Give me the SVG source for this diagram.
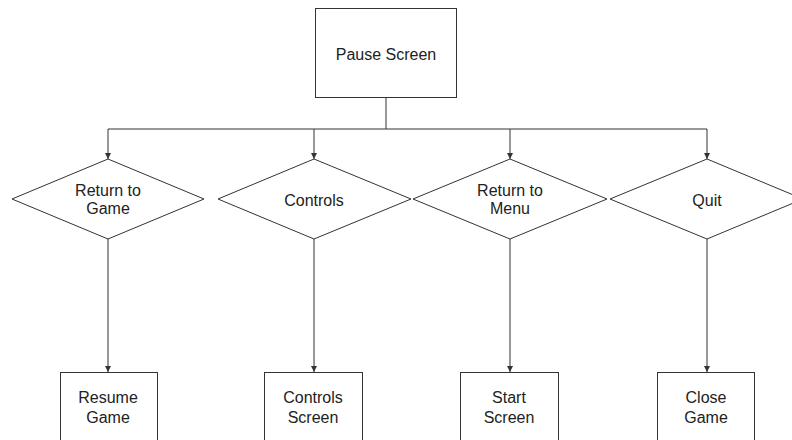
<svg xmlns="http://www.w3.org/2000/svg" width="792" height="440" viewBox="0 0 792 440">
<style>
.n{fill:#fff;stroke:#333;stroke-width:1}
.t{font-family:"Liberation Sans",Arial,sans-serif;font-size:16px;fill:#222;text-anchor:middle}
.c{fill:none;stroke:#333;stroke-width:1}
</style>
<defs>
<marker id="a" viewBox="0 0 8 8" refX="8" refY="4" markerWidth="6" markerHeight="6" markerUnits="userSpaceOnUse" orient="auto">
<path d="M0,0 L8,4 L0,8 z" fill="#333"/>
</marker>
</defs>
<rect width="792" height="440" fill="#fff"/>
<g id="connectors">
<path class="c" d="M386,97 V129"/>
<path class="c" d="M108,129 H707"/>
<path class="c" d="M108,129 V159" marker-end="url(#a)"/>
<path class="c" d="M314,129 V159" marker-end="url(#a)"/>
<path class="c" d="M510,129 V159" marker-end="url(#a)"/>
<path class="c" d="M707,129 V159" marker-end="url(#a)"/>
<path class="c" d="M108,239 V372" marker-end="url(#a)"/>
<path class="c" d="M314,239 V372" marker-end="url(#a)"/>
<path class="c" d="M510,239 V372" marker-end="url(#a)"/>
<path class="c" d="M707,239 V372" marker-end="url(#a)"/>
</g>
<g id="pause">
<rect class="n" x="315.5" y="8.5" width="141" height="89"/>
<text class="t" x="386" y="60">Pause Screen</text>
</g>
<g id="d1">
<polygon class="n" points="108,159 204,199 108,239 12,199"/>
<text class="t" x="108" y="196">Return to</text>
<text class="t" x="108" y="214">Game</text>
</g>
<g id="d2">
<polygon class="n" points="314,159 411,199 314,239 218,199"/>
<text class="t" x="314" y="206">Controls</text>
</g>
<g id="d3">
<polygon class="n" points="510,159 607,199 510,239 413,199"/>
<text class="t" x="510" y="196">Return to</text>
<text class="t" x="510" y="214">Menu</text>
</g>
<g id="d4">
<polygon class="n" points="707,159 803,199 707,239 610,199"/>
<text class="t" x="707" y="206">Quit</text>
</g>
<g id="b1">
<rect class="n" x="60.5" y="372.5" width="97" height="80"/>
<text class="t" x="108" y="403">Resume</text>
<text class="t" x="108" y="423">Game</text>
</g>
<g id="b2">
<rect class="n" x="264.5" y="372.5" width="98" height="80"/>
<text class="t" x="313" y="403">Controls</text>
<text class="t" x="313" y="423">Screen</text>
</g>
<g id="b3">
<rect class="n" x="460.5" y="372.5" width="98" height="80"/>
<text class="t" x="509" y="403">Start</text>
<text class="t" x="509" y="423">Screen</text>
</g>
<g id="b4">
<rect class="n" x="657.5" y="372.5" width="97" height="80"/>
<text class="t" x="706" y="403">Close</text>
<text class="t" x="706" y="423">Game</text>
</g>
</svg>
